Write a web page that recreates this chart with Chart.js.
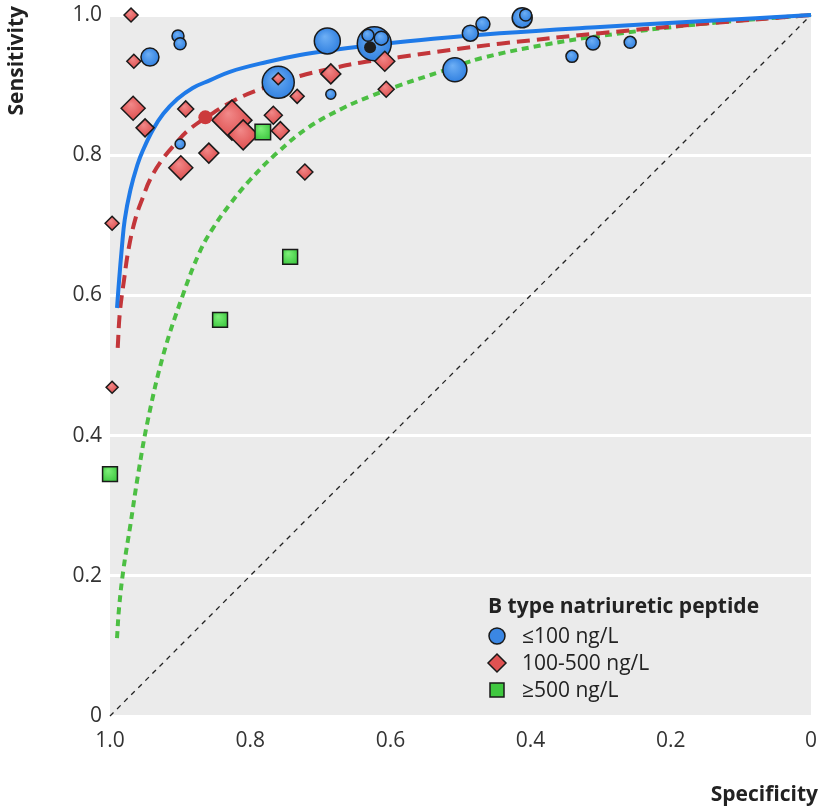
<!DOCTYPE html>
<html>
<head>
<meta charset="utf-8">
<script src="https://cdn.jsdelivr.net/npm/chart.js@4"></script>
<style>
  body { margin: 0; background: #fff; }
  canvas { display: block; }
</style>
</head>
<body>
<canvas id="roc" width="824" height="812"></canvas>
<script>
// Estudos BNP <=100 ng/L (círculos)
const blueSpec = [0.943, 0.903, 0.900, 0.760, 0.690, 0.685, 0.900, 0.623, 0.632, 0.613, 0.508, 0.486, 0.468, 0.412, 0.407, 0.341, 0.311, 0.258];
const blueSens = [0.940, 0.970, 0.959, 0.904, 0.963, 0.887, 0.816, 0.959, 0.971, 0.967, 0.922, 0.974, 0.987, 0.996, 1.000, 0.941, 0.960, 0.961];
const blueSize = [9, 6, 6, 16, 13, 5, 5, 17, 6, 7, 12, 8, 7, 10, 6, 6, 7, 6];

// Estudos BNP 100-500 ng/L (losangos)
const redSpec = [0.970, 0.966, 0.967, 0.950, 0.892, 0.899, 0.859, 0.826, 0.810, 0.760, 0.733, 0.767, 0.757, 0.722, 0.685, 0.608, 0.606, 0.997, 0.997];
const redSens = [1.000, 0.934, 0.867, 0.839, 0.866, 0.782, 0.803, 0.850, 0.829, 0.909, 0.884, 0.857, 0.835, 0.776, 0.916, 0.934, 0.894, 0.703, 0.469];
const redSize = [7, 7, 12, 9, 8, 12, 10, 20, 15, 6, 7, 9, 9, 8, 10, 10, 8, 7, 6];

// Estudos BNP >=500 ng/L (quadrados)
const greenSpec = [0.782, 0.743, 0.843, 1.000];
const greenSens = [0.833, 0.655, 0.565, 0.345];
const greenSize = [11, 10.5, 10.5, 10.5];

// Pontos resumo
const sumSpec = [0.629, 0.864];
const sumSens = [0.954, 0.854];

// Curvas SROC
const blueCurveSpec = [0.990, 0.987, 0.983, 0.979, 0.971, 0.961, 0.953, 0.939, 0.924, 0.904, 0.882, 0.857, 0.829, 0.776, 0.729, 0.682, 0.633, 0.539, 0.444, 0.301, 0.158, 0.000];
const blueCurveSens = [0.582, 0.622, 0.669, 0.708, 0.750, 0.786, 0.807, 0.836, 0.859, 0.880, 0.896, 0.907, 0.919, 0.933, 0.943, 0.950, 0.956, 0.966, 0.974, 0.983, 0.991, 1.000];

const redCurveSpec = [0.989, 0.986, 0.980, 0.973, 0.963, 0.953, 0.943, 0.926, 0.907, 0.889, 0.864, 0.825, 0.786, 0.729, 0.682, 0.643, 0.586, 0.515, 0.444, 0.301, 0.158, 0.000];
const redCurveSens = [0.525, 0.575, 0.622, 0.669, 0.712, 0.740, 0.765, 0.793, 0.816, 0.835, 0.853, 0.877, 0.894, 0.913, 0.924, 0.932, 0.940, 0.950, 0.959, 0.974, 0.987, 1.000];

const greenCurveSpec = [0.990, 0.987, 0.981, 0.971, 0.960, 0.946, 0.924, 0.897, 0.872, 0.853, 0.829, 0.800, 0.762, 0.718, 0.668, 0.629, 0.586, 0.529, 0.468, 0.372, 0.301, 0.158, 0.000];
const greenCurveSens = [0.111, 0.155, 0.208, 0.272, 0.344, 0.422, 0.515, 0.598, 0.662, 0.696, 0.730, 0.765, 0.803, 0.839, 0.867, 0.884, 0.900, 0.919, 0.939, 0.959, 0.970, 0.987, 1.000];

// Linha de referência
const diagSpec = [1, 0];
const diagSens = [0, 1];

const tickValues = [0, 0.2, 0.4, 0.6, 0.8, 1.0];

const FONT = "'Open Sans', 'DejaVu Sans', sans-serif";

function pts(xs, ys) {
    return xs.map((x, i) => ({ x: x, y: ys[i] }));
}

// Preenchimento com brilho, como no original
function glossy(light, base) {
    return c => {
        const chart = c.chart;
        if (!c.parsed || !chart.scales.x) return base;
        const px = chart.scales.x.getPixelForValue(c.parsed.x);
        const py = chart.scales.y.getPixelForValue(c.parsed.y);
        if (!isFinite(px) || !isFinite(py)) return base;
        const r = c.dataset.pointRadius;
        const rad = Array.isArray(r) ? r[c.dataIndex] : r;
        const g = chart.ctx.createRadialGradient(px - rad * 0.2, py - rad * 0.35, 0, px, py, rad * 1.1);
        g.addColorStop(0, light);
        g.addColorStop(1, base);
        return g;
    };
}

function curve(xs, ys, color, dash, order) {
    return {
        type: 'line',
        data: pts(xs, ys),
        borderColor: color,
        borderWidth: 4,
        borderDash: dash,
        pointRadius: 0,
        fill: false,
        tension: 0.4,
        order: order
    };
}

// Fundo cinza da área do gráfico
const bgPlugin = {
    id: 'bg',
    beforeDraw(chart) {
        const a = chart.chartArea;
        const ctx = chart.ctx;
        ctx.save();
        ctx.fillStyle = '#ebebeb';
        ctx.fillRect(a.left, a.top, a.right - a.left, a.bottom - a.top);
        ctx.restore();
    }
};

// Títulos dos eixos e legenda
const textPlugin = {
    id: 'texts',
    afterDraw(chart) {
        const ctx = chart.ctx;
        ctx.save();
        ctx.fillStyle = '#222';
        ctx.font = 'bold 21px ' + FONT;
        ctx.textAlign = 'right';
        ctx.textBaseline = 'middle';
        ctx.fillText('Specificity', 818, 795);

        ctx.save();
        ctx.translate(17, 6);
        ctx.rotate(-Math.PI / 2);
        ctx.textAlign = 'right';
        ctx.fillText('Sensitivity', 0, 0);
        ctx.restore();

        // legenda
        ctx.textAlign = 'left';
        ctx.font = 'bold 21px ' + FONT;
        ctx.fillText('B type natriuretic peptide', 488, 607);

        ctx.font = '21px ' + FONT;
        const labels = ['\u2264100 ng/L', '100-500 ng/L', '\u2265500 ng/L'];
        const ys = [636, 663, 690];
        ctx.lineWidth = 1.5;
        ctx.strokeStyle = '#1a1a1a';
        labels.forEach((lab, i) => {
            const y = ys[i];
            ctx.beginPath();
            if (i === 0) {
                ctx.fillStyle = '#3b87e4';
                ctx.arc(497, y, 8, 0, Math.PI * 2);
            } else if (i === 1) {
                ctx.fillStyle = '#e05252';
                ctx.moveTo(497, y - 9); ctx.lineTo(506, y); ctx.lineTo(497, y + 9); ctx.lineTo(488, y);
                ctx.closePath();
            } else {
                ctx.fillStyle = '#3fc83f';
                ctx.rect(490, y - 7, 14, 14);
            }
            ctx.fill();
            ctx.stroke();
            ctx.fillStyle = '#222';
            ctx.fillText(lab, 522, y + 1);
        });
        ctx.restore();
    }
};

const ctx = document.getElementById('roc').getContext('2d');

new Chart(ctx, {
    type: 'scatter',
    data: {
        datasets: [
            {
                data: pts(sumSpec, sumSens),
                pointStyle: 'circle',
                pointRadius: [6, 7],
                pointBackgroundColor: ['#1e1e1e', '#cc3a3c'],
                pointBorderWidth: 0,
                order: 0
            },
            {
                data: pts(greenSpec, greenSens),
                pointStyle: 'rect',
                pointRadius: greenSize,
                pointBackgroundColor: glossy('#7ff07a', '#2fbf33'),
                pointBorderColor: '#1a1a1a',
                pointBorderWidth: 1.5,
                order: 1
            },
            {
                data: pts(redSpec, redSens),
                pointStyle: 'rectRot',
                pointRadius: redSize,
                pointBackgroundColor: glossy('#f28a8a', '#dc4a4a'),
                pointBorderColor: '#1a1a1a',
                pointBorderWidth: 1.5,
                order: 2
            },
            {
                data: pts(blueSpec, blueSens),
                pointStyle: 'circle',
                pointRadius: blueSize,
                pointBackgroundColor: glossy('#6fb0f5', '#2f7fe0'),
                pointBorderColor: '#1a1a1a',
                pointBorderWidth: 1.5,
                order: 3
            },
            curve(blueCurveSpec, blueCurveSens, '#1f7ae8', [], 4),
            curve(redCurveSpec, redCurveSens, '#c3363a', [13, 7], 5),
            curve(greenCurveSpec, greenCurveSens, '#4cbf43', [7, 5], 6),
            {
                type: 'line',
                data: pts(diagSpec, diagSens),
                borderColor: '#222',
                borderWidth: 1.3,
                borderDash: [5, 5],
                pointRadius: 0,
                order: 7
            }
        ].map(d => Object.assign({ clip: false }, d))
    },
    options: {
        responsive: false,
        animation: false,
        devicePixelRatio: 1,
        layout: { autoPadding: false, padding: { top: 15, right: 13, left: 0, bottom: 0 } },
        plugins: {
            legend: { display: false },
            tooltip: { enabled: false }
        },
        scales: {
            x: {
                type: 'linear',
                min: 0,
                max: 1,
                reverse: true,
                afterBuildTicks: s => { s.ticks = tickValues.map(v => ({ value: v })); },
                afterFit: s => { s.height = 96; s.paddingLeft = 0; s.paddingRight = 0; },
                ticks: {
                    padding: 12,
                    color: '#333',
                    font: { family: FONT, size: 21 },
                    callback: v => v === 0 ? '0' : v.toFixed(1)
                },
                grid: { display: false, drawTicks: false },
                border: { display: false }
            },
            y: {
                type: 'linear',
                min: 0,
                max: 1,
                afterBuildTicks: s => { s.ticks = tickValues.map(v => ({ value: v })); },
                afterFit: s => { s.width = 110; s.paddingTop = 0; s.paddingBottom = 0; },
                ticks: {
                    padding: 8,
                    color: '#333',
                    font: { family: FONT, size: 21 },
                    callback: v => v === 0 ? '0' : v.toFixed(1)
                },
                grid: { color: '#ffffff', lineWidth: 3, drawTicks: false },
                border: { display: false }
            }
        }
    },
    plugins: [bgPlugin, textPlugin]
});
</script>
</body>
</html>
